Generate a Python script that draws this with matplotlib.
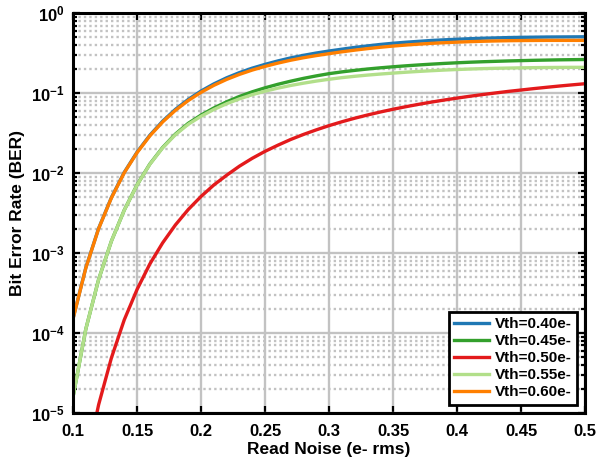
import matplotlib
matplotlib.use("Agg")
import matplotlib.pyplot as plt
from matplotlib.ticker import LogLocator, NullLocator, FixedLocator, FixedFormatter

# values
read_noise = [0.10, 0.11, 0.12, 0.13, 0.14, 0.15, 0.16, 0.17, 0.18, 0.19,
              0.20, 0.21, 0.22, 0.23, 0.24, 0.25, 0.26, 0.27, 0.28, 0.29,
              0.30, 0.31, 0.32, 0.33, 0.34, 0.35, 0.36, 0.37, 0.38, 0.39,
              0.40, 0.41, 0.42, 0.43, 0.44, 0.45, 0.46, 0.47, 0.48, 0.49, 0.50]

ber_040 = [1.514e-4, 6.561e-4, 2.037e-3, 4.955e-3, 0.01021, 0.01824, 0.02971, 0.04457, 0.06266, 0.08337,
           0.1061, 0.1303, 0.1553, 0.1803, 0.2051, 0.2286, 0.2523, 0.2754, 0.2965, 0.3169,
           0.3358, 0.3540, 0.3723, 0.3890, 0.4055, 0.4198, 0.4325, 0.4437, 0.4550, 0.4634,
           0.4710, 0.4786, 0.4852, 0.4897, 0.4944, 0.4977, 0.5000, 0.5023, 0.5035, 0.5046, 0.5058]

ber_045 = [1.585e-5, 1.122e-4, 4.677e-4, 1.413e-3, 3.436e-3, 7.112e-3, 0.01297, 0.02089, 0.03076, 0.04188,
           0.05309, 0.06516, 0.07780, 0.09078, 0.1038, 0.1164, 0.1288, 0.1409, 0.1528, 0.1641,
           0.1750, 0.1841, 0.1923, 0.2000, 0.2070, 0.2133, 0.2193, 0.2249, 0.2301, 0.2350,
           0.2393, 0.2432, 0.2466, 0.2495, 0.2523, 0.2547, 0.2570, 0.2588, 0.2606, 0.2618, 0.2630]

ber_050 = [2.35e-7, 2.26e-6, 1.27e-5, 4.9e-5, 1.46e-4, 3.5e-4, 7.3e-4, 1.34e-3, 2.25e-3, 3.5e-3,
           5.1e-3, 7.1e-3, 9.4e-3, 0.0122, 0.0153, 0.0187, 0.0223, 0.0263, 0.0304, 0.0347,
           0.0392, 0.0438, 0.0485, 0.0532, 0.058, 0.0628, 0.0676, 0.0724, 0.0772, 0.0819,
           0.0866, 0.0913, 0.0959, 0.1004, 0.105, 0.1093, 0.1138, 0.1182, 0.1226, 0.1268, 0.131]

ber_055 = [1.585e-5, 1.122e-4, 4.677e-4, 1.413e-3, 3.428e-3, 7.079e-3, 0.01288, 0.02065, 0.0302, 0.04074,
           0.05129, 0.06237, 0.07362, 0.08472, 0.09550, 0.1057, 0.1153, 0.1245, 0.1330, 0.1413,
           0.1489, 0.1560, 0.1622, 0.1679, 0.1730, 0.1778, 0.1824, 0.1866, 0.1905, 0.1941,
           0.1972, 0.2000, 0.2023, 0.2042, 0.2056, 0.2070, 0.2080, 0.2089, 0.2094, 0.2099, 0.2099]

ber_060 = [1.500e-4, 6.501e-4, 2.018e-3, 4.898e-3, 0.01009, 0.01799, 0.02917, 0.04355, 0.06095, 0.08072,
           0.1023, 0.1250, 0.1483, 0.1714, 0.1941, 0.2158, 0.2371, 0.2576, 0.2767, 0.2944,
           0.3112, 0.3281, 0.3443, 0.3597, 0.3741, 0.3873, 0.3990, 0.4093, 0.4188, 0.4266,
           0.4335, 0.4395, 0.4446, 0.4487, 0.4519, 0.4539, 0.4550, 0.4560, 0.4560, 0.4560, 0.4560]

labels = ["Vth=0.40e-", "Vth=0.45e-", "Vth=0.50e-", "Vth=0.55e-", "Vth=0.60e-"]
colors = ["#1f78b4", "#33a02c", "#e31a1c", "#b2df8a", "#ff7f00"]

x_ticks = [0.1, 0.15, 0.2, 0.25, 0.3, 0.35, 0.4, 0.45, 0.5]
x_tick_labels = ["0.1", "0.15", "0.2", "0.25", "0.3", "0.35", "0.4", "0.45", "0.5"]
y_ticks = [1e-5, 1e-4, 1e-3, 1e-2, 1e-1, 1e0]
y_tick_labels = [r"$\mathbf{10^{-5}}$", r"$\mathbf{10^{-4}}$", r"$\mathbf{10^{-3}}$",
                 r"$\mathbf{10^{-2}}$", r"$\mathbf{10^{-1}}$", r"$\mathbf{10^{0}}$"]

plt.rcParams['font.family'] = ['Liberation Sans', 'DejaVu Sans']
plt.rcParams['font.weight'] = 'bold'
plt.rcParams['mathtext.fontset'] = 'custom'
plt.rcParams['mathtext.rm'] = 'Liberation Sans:bold'
plt.rcParams['mathtext.bf'] = 'Liberation Sans:bold'
plt.rcParams['mathtext.it'] = 'Liberation Sans:bold'

fig = plt.figure(figsize=(6.06, 4.65), dpi=100)
ax = fig.add_axes([0.1205, 0.1118, 0.845, 0.860])

series = [ber_040, ber_045, ber_050, ber_055, ber_060]
for ys, lab, col in zip(series, labels, colors):
    ax.plot(read_noise, ys, color=col, lw=2.4, label=lab)

ax.set_yscale('log')
ax.set_xlim(0.1, 0.5)
ax.set_ylim(1e-5, 1)

ax.xaxis.set_major_locator(FixedLocator(x_ticks))
ax.xaxis.set_major_formatter(FixedFormatter(x_tick_labels))
ax.xaxis.set_minor_locator(NullLocator())
ax.yaxis.set_major_locator(FixedLocator(y_ticks))
ax.yaxis.set_major_formatter(FixedFormatter(y_tick_labels))
ax.yaxis.set_minor_locator(LogLocator(base=10, subs=[2, 3, 4, 5, 6, 7, 8, 9]))

ax.set_axisbelow(True)
ax.grid(which='major', color='#c2c2c2', lw=1.7, ls='-')
ax.grid(which='minor', axis='y', color='#c2c2c2', lw=1.7, ls=(0, (1.0, 1.3)))

ax.tick_params(which='both', direction='in', top=True, right=True, width=1.6,
               labelsize=12, colors='black')
ax.tick_params(which='major', length=5)
ax.tick_params(axis='x', which='major', pad=8)
ax.tick_params(axis='y', which='major', pad=6)
ax.tick_params(which='minor', length=3)
for sp in ax.spines.values():
    sp.set_linewidth(2.2)

ax.set_xlabel("Read Noise (e- rms)", fontsize=12.5, fontweight='bold', labelpad=2)
ax.set_ylabel("Bit Error Rate (BER)", fontsize=12.5, fontweight='bold', labelpad=4)

leg = ax.legend(loc='lower right', fontsize=11, fancybox=False, framealpha=1,
                edgecolor='black', handlelength=2.3, borderaxespad=0.55,
                labelspacing=0.2, handletextpad=0.35, borderpad=0.35)
leg.get_frame().set_linewidth(2.0)
for t in leg.get_texts():
    t.set_fontweight('bold')
for h in leg.get_lines():
    h.set_linewidth(2.4)

fig.savefig("out.png", dpi=100)
